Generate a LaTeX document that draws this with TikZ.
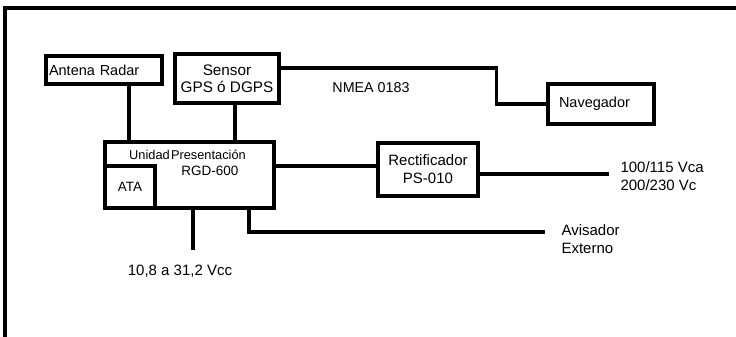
\documentclass[tikz,border=0pt]{standalone}
\usepackage{fontspec}
\setmainfont{Liberation Sans}
\usepackage{tikz}
\usetikzlibrary{positioning,calc}

\begin{document}
\begin{tikzpicture}[
  x=1pt, y=-1pt,
  font=\fontsize{15}{18}\selectfont,
  line width=3.1pt,
  box/.style={draw, inner sep=0pt, align=center},
  lbl/.style={inner sep=0pt, align=left}
]
\useasboundingbox (0,0) rectangle (736,337);
\draw (5,337) -- (5,8) -- (736,8);

\node[box, minimum width=116pt, minimum height=28pt, text width=110pt, align=left,
  font=\fontsize{14.5}{17}\selectfont] (antena) at (104,70) {Antena Radar};
\node[box, minimum width=104pt, minimum height=49pt, font=\fontsize{15.3}{17}\selectfont] (sensor) at (227,78.5) {Sensor\\GPS ó DGPS};
\node[box, minimum width=169pt, minimum height=66pt] (unidad) at (189.5,175) {};
\node[box, anchor=south west, minimum width=50pt, minimum height=42pt,
  font=\fontsize{13.5}{16}\selectfont] (ata) at (unidad.south west) {ATA};
\node[lbl, font=\fontsize{12.8}{15}\selectfont] (unidadtxt) at (187.5,155) {Unidad\hspace{0.1em}Presentación};
\node[lbl, font=\fontsize{13.5}{16}\selectfont] (rgd) at (210,171) {RGD-600};
\node[box, minimum width=100pt, minimum height=53pt] (rectif) at (428,169.5) {Rectificador\\PS-010};
\node[box, minimum width=106pt, minimum height=40pt, text width=84pt, align=left,
  font=\fontsize{14.5}{17}\selectfont] (naveg) at (601,104) {Navegador};

\node[lbl, font=\fontsize{14.3}{17}\selectfont] (nmea) at (371,88) {NMEA 0183};
\node[lbl, anchor=west] (ac) at (619,176) {100/115 Vca\\200/230 Vc};
\node[lbl, anchor=west] (avisador) at (560,239.5) {Avisador\\Externo};
\node[lbl] (vcc) at (180,271) {10,8 a 31,2 Vcc};

\coordinate (acend) at (609,174);
\coordinate (avend) at (545,232);
\coordinate (vccend) at (193,250);

\draw ([xshift=25pt]antena.south) -- ([xshift=25pt]antena.south |- unidad.north);
\draw ([xshift=8pt]sensor.south) -- ([xshift=8pt]sensor.south |- unidad.north);
\draw ([yshift=10.5pt]sensor.east) -- ++(216,0) |- (naveg.west);
\draw ([yshift=3.5pt]rectif.west) -- ([yshift=3.5pt]rectif.west -| unidad.east);
\draw ([yshift=-4.5pt]rectif.east) -- (acend);
\draw ([xshift=3.5pt]unidad.south) -- (vccend);
\draw ([xshift=59.5pt]unidad.south) |- (avend);
\end{tikzpicture}
\end{document}
